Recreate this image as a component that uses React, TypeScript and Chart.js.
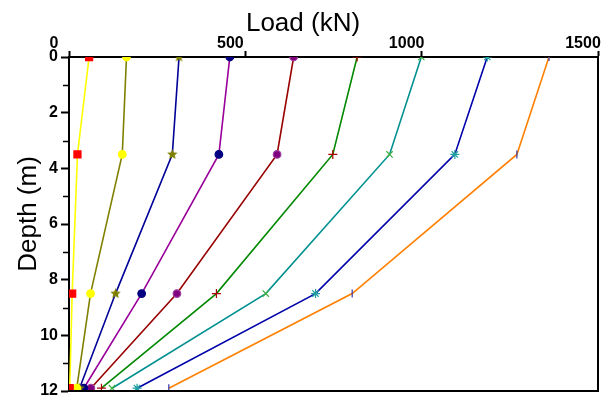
import { useEffect, useRef } from 'react';
import { Chart, registerables } from 'chart.js';

Chart.register(...registerables);

// Depth (m) of the measured points
const depths = [0, 3.5, 8.5, 11.9];

// Load (kN) at each depth, one array per load step
const load1 = [57, 24, 9, 2];
const load2 = [163, 151, 61, 22];
const load3 = [312, 293, 132, 30];
const load4 = [456, 425, 206, 42];
const load5 = [637, 590, 306, 62];
const load6 = [817, 748, 418, 92];
const load7 = [999, 909, 558, 122];
const load8 = [1186, 1094, 699, 193];
const load9 = [1361, 1270, 803, 283];

const xTickValues = [0, 500, 1000, 1500];
const yTickValues = [0, 2, 4, 6, 8, 10, 12];
const yMinorTicks = [1, 3, 5, 7, 9, 11];

const xTitle = 'Load (kN)';
const yTitle = 'Depth (m)';

const FONT = '"Liberation Sans", Arial, sans-serif';

function makeStar(color: string, size: number) {
  const c = document.createElement('canvas');
  c.width = size;
  c.height = size;
  const ctx = c.getContext('2d')!;
  const cx = size / 2;
  const cy = size / 2;
  const R = size / 2;
  const r = R * 0.45;
  ctx.beginPath();
  for (let i = 0; i < 10; i++) {
    const rad = i % 2 === 0 ? R : r;
    const a = -Math.PI / 2 + (i * Math.PI) / 5;
    const px = cx + rad * Math.cos(a);
    const py = cy + rad * Math.sin(a);
    if (i === 0) ctx.moveTo(px, py);
    else ctx.lineTo(px, py);
  }
  ctx.closePath();
  ctx.fillStyle = color;
  ctx.fill();
  return c;
}

export default function App() {
  const ref = useRef<HTMLCanvasElement>(null);

  useEffect(() => {
    const star = makeStar('#808000', 11);
    const toPts = (arr: number[]) => arr.map((v, i) => ({ x: v, y: depths[i] }));

    const series: any[] = [
      { data: load1, line: '#ffff00', style: 'rect', fill: '#ff0000', border: '#ff0000', r: 5 },
      { data: load2, line: '#808000', style: 'circle', fill: '#ffff00', border: '#ffff00', r: 3.8 },
      { data: load3, line: '#000099', style: star, fill: '#808000', border: '#808000', r: 4 },
      { data: load4, line: '#990099', style: 'circle', fill: '#000080', border: '#000080', r: 3.8 },
      { data: load5, line: '#990000', style: 'circle', fill: '#800080', border: '#a040a0', r: 3.8 },
      { data: load6, line: '#008800', style: 'cross', fill: '#aa0000', border: '#aa0000', r: 4.5 },
      { data: load7, line: '#009090', style: 'crossRot', fill: '#40b040', border: '#40b040', r: 4.5 },
      { data: load8, line: '#0000aa', style: 'star', fill: '#20a0a0', border: '#20a0a0', r: 4.5 },
      { data: load9, line: '#ff8000', style: 'line', fill: '#3333aa', border: '#3333aa', r: 4, rot: 90 },
    ];

    const framePlugin = {
      id: 'frame',
      afterDatasetsDraw(chart: any) {
        const { ctx, chartArea } = chart;
        const { left, right, top, bottom } = chartArea;
        ctx.save();
        ctx.strokeStyle = '#000';
        ctx.lineWidth = 2;
        ctx.beginPath();
        ctx.moveTo(left - 1, bottom);
        ctx.lineTo(right + 1, bottom);
        ctx.moveTo(right, top - 1);
        ctx.lineTo(right, bottom + 1);
        ctx.stroke();
        // minor ticks on the depth axis
        const ys = chart.scales.y;
        ctx.lineWidth = 1.5;
        ctx.beginPath();
        yMinorTicks.forEach((v) => {
          const py = Math.round(ys.getPixelForValue(v)) + 0.5;
          ctx.moveTo(left - 6, py);
          ctx.lineTo(left, py);
        });
        ctx.stroke();
        ctx.restore();
      },
      afterDraw(chart: any) {
        const { ctx } = chart;
        ctx.save();
        ctx.font = `26px ${FONT}`;
        ctx.fillStyle = '#000';
        ctx.textAlign = 'center';
        ctx.textBaseline = 'middle';
        ctx.fillText(xTitle, 303, 24);
        ctx.translate(29, 214);
        ctx.rotate(-Math.PI / 2);
        ctx.fillText(yTitle, 0, 0);
        ctx.restore();
      },
    };

    const chart = new Chart(ref.current!, {
      type: 'scatter',
      data: {
        datasets: series.map((s) => ({
          data: toPts(s.data),
          showLine: true,
          borderColor: s.line,
          borderWidth: 1.6,
          backgroundColor: s.fill,
          pointStyle: s.style,
          pointRadius: s.r,
          pointBackgroundColor: s.fill,
          pointBorderColor: s.border,
          pointBorderWidth: 1.2,
          pointRotation: s.rot || 0,
          clip: 0,
        })),
      },
      options: {
        responsive: false,
        animation: false,
        layout: { padding: { left: 0, right: 15, top: 0, bottom: 8 } },
        plugins: {
          legend: { display: false },
          tooltip: { enabled: false },
          title: { display: false },
        },
        scales: {
          x: {
            type: 'linear',
            position: 'top',
            min: 0,
            max: 1500,
            afterBuildTicks: (s: any) => {
              s.ticks = xTickValues.map((v) => ({ value: v }));
            },
            ticks: {
              color: '#000',
              font: { family: FONT, size: 16, weight: 'bold' },
              padding: -2,
              labelOffset: -15,
              maxRotation: 0,
              autoSkip: false,
              callback: (v: any) => String(v),
            },
            grid: { drawOnChartArea: false, drawTicks: true, tickLength: 6, color: '#000', tickWidth: 2 },
            border: { display: true, color: '#000', width: 2 },
            afterFit: (s: any) => {
              s.height = 57;
              s.paddingLeft = 0;
              s.paddingRight = 0;
            },
          },
          y: {
            type: 'linear',
            reverse: true,
            min: 0,
            max: 12,
            afterBuildTicks: (s: any) => {
              s.ticks = yTickValues.map((v) => ({ value: v }));
            },
            ticks: {
              color: '#000',
              font: { family: FONT, size: 16, weight: 'bold' },
              padding: 3,
              autoSkip: false,
              callback: (v: any) => String(v),
            },
            grid: { drawOnChartArea: false, drawTicks: true, tickLength: 8, color: '#000', tickWidth: 2 },
            border: { display: true, color: '#000', width: 2 },
            afterFit: (s: any) => {
              s.width = 69;
              s.paddingTop = 0;
              s.paddingBottom = 0;
            },
          },
        },
      },
      plugins: [framePlugin],
    } as any);

    return () => chart.destroy();
  }, []);

  return (
    <div style={{ position: 'fixed', left: 0, top: 0, width: 613, height: 399, background: '#fff' }}>
      <canvas ref={ref} width={613} height={399} style={{ display: 'block' }} />
    </div>
  );
}
